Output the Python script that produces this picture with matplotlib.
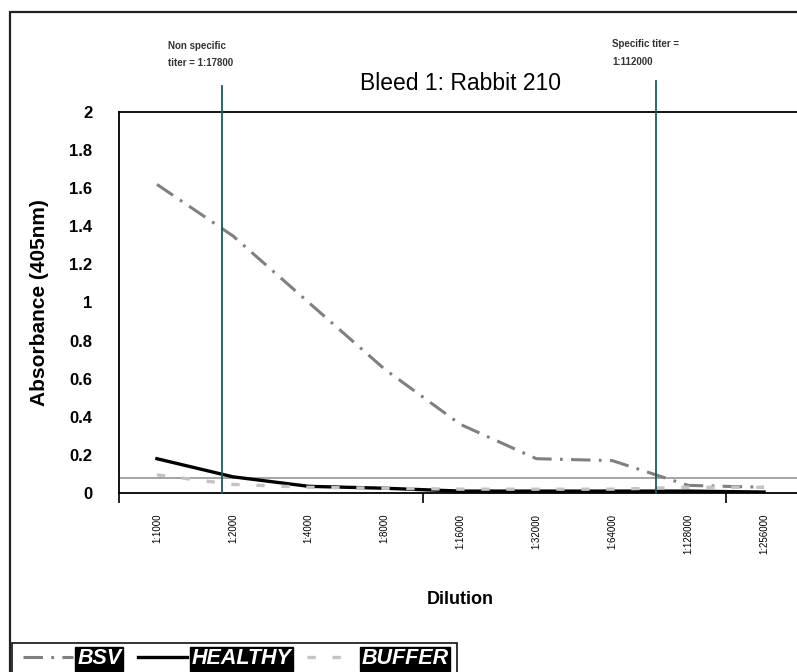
import matplotlib
matplotlib.use('Agg')
import matplotlib.pyplot as plt
from matplotlib.lines import Line2D
from matplotlib.patches import Rectangle

plt.rcParams['lines.scale_dashes'] = False
plt.rcParams['font.family'] = ['Liberation Sans', 'DejaVu Sans']

dilutions = ['1:1000', '1:2000', '1:4000', '1:8000', '1:16000',
             '1:32000', '1:64000', '1:128000', '1:256000']
bsv = [1.62, 1.35, 1.0, 0.65, 0.36, 0.18, 0.17, 0.04, 0.03]
healthy = [0.18, 0.085, 0.035, 0.025, 0.01, 0.01, 0.01, 0.01, 0.005]
buffer_ = [0.095, 0.045, 0.03, 0.025, 0.02, 0.02, 0.02, 0.03, 0.03]
cutoff = 0.08
titer_marks = [0.855, 6.58]   # category positions of the two titer lines
titer_texts = ['Non specific\ntiter = 1:17800', 'Specific titer =\n1:112000']

W, H = 797, 672
fig = plt.figure(figsize=(W / 100, H / 100), dpi=100)

def fx(px):
    return px / W

def fy(py):
    return 1 - py / H

# outer chart frame and legend box
fig.patches.append(Rectangle((fx(10), fy(700)), fx(800), fy(12) - fy(700),
                             transform=fig.transFigure, fill=False,
                             edgecolor='#222222', lw=1.6))
fig.patches.append(Rectangle((fx(12), fy(700)), fx(445), fy(643) - fy(700),
                             transform=fig.transFigure, fill=False,
                             edgecolor='#111111', lw=1.2))

ax = fig.add_axes([fx(119), fy(493), fx(802 - 119), fy(112) - fy(493)])
x = range(len(dilutions))

ax.axhline(cutoff, color='#8c8c8c', lw=1.1, zorder=1)
ax.plot(x, bsv, color='#808080', lw=2.2, ls=(0, (14, 6, 2, 6)), zorder=3)
ax.plot(x, healthy, color='black', lw=2.4, zorder=3)
ax.plot(x, buffer_, color='#c4c4c4', lw=2.4, ls=(0, (6, 12)), zorder=4)

tops = [2.137, 2.163]
for xm, top in zip(titer_marks, tops):
    ax.plot([xm, xm], [0, top], color='#1a5a5e', lw=1.3, clip_on=False, zorder=5)

ax.text(0.15, 2.3, titer_texts[0], fontsize=7, fontweight='bold',
        color='#333333', ha='left', va='center', linespacing=1.9)
ax.text(6.0, 2.31, titer_texts[1], fontsize=7, fontweight='bold',
        color='#333333', ha='left', va='center', linespacing=1.9)

ax.set_title('Bleed 1: Rabbit 210', fontsize=16.5, pad=16)

ax.set_xlim(-0.5, 8.5)
ax.set_ylim(0, 2)
ax.set_yticks([0, 0.2, 0.4, 0.6, 0.8, 1, 1.2, 1.4, 1.6, 1.8, 2])
ax.set_yticklabels(['0', '0.2', '0.4', '0.6', '0.8', '1', '1.2', '1.4',
                    '1.6', '1.8', '2'], fontsize=12, fontweight='bold')
ax.tick_params(axis='y', length=0, pad=19)
ax.set_xticks(list(x))
ax.set_xticklabels(dilutions, rotation=90, fontsize=7)
ax.tick_params(axis='x', which='major', length=0, pad=15)
ax.set_xticks([-0.5, 3.5, 7.5], minor=True)
ax.tick_params(axis='x', which='minor', length=7, width=1.2, direction='out')

for s in ['left', 'top', 'bottom']:
    ax.spines[s].set_linewidth(1.3)
ax.spines['right'].set_visible(False)

ax.set_ylabel('Absorbance (405nm)', fontsize=15, fontweight='bold')
ax.yaxis.set_label_coords(-(119 - 40) / (802 - 119), 0.5)
ax.set_xlabel('Dilution', fontsize=13, fontweight='bold')
ax.xaxis.set_label_coords((460 - 119) / (802 - 119), -(600 - 493) / (493 - 112))
ax.xaxis.label.set_va('center')
ax.yaxis.label.set_va('center')

handles = [Line2D([], [], color='#808080', lw=2.2, ls=(0, (14, 6, 2, 6))),
           Line2D([], [], color='black', lw=2.4),
           Line2D([], [], color='#c4c4c4', lw=2.4, ls=(0, (6, 12)))]
leg = fig.legend(handles, ['BSV', 'HEALTHY', 'BUFFER'], ncol=3,
                 loc='center left', bbox_to_anchor=(fx(4), fy(659)),
                 frameon=False, handlelength=2.3, handletextpad=0.2,
                 columnspacing=0.75, prop={'size': 15.5, 'weight': 'bold',
                                           'style': 'italic'})
for t in leg.get_texts():
    t.set_color('white')
    t.set_bbox(dict(facecolor='black', edgecolor='black', pad=1.2))

fig.savefig('out.png', dpi=100)
